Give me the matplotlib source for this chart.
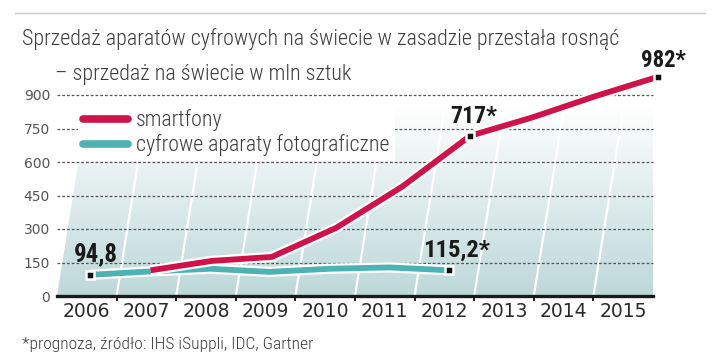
import numpy as np
import matplotlib
matplotlib.use("Agg")
import matplotlib.pyplot as plt
import matplotlib.transforms as mtransforms
import matplotlib.patheffects as pe
from matplotlib.patches import Polygon
from matplotlib.lines import Line2D
from matplotlib import font_manager

_names = {f.name for f in font_manager.fontManager.ttflist}
NARROW = next((n for n in ["Roboto Condensed", "Archivo Narrow", "Asap Condensed",
                           "Liberation Sans Narrow", "DejaVu Sans"] if n in _names), "DejaVu Sans")

# ---- data ----
year_labels = ["2006", "2007", "2008", "2009", "2010", "2011", "2012", "2013", "2014", "2015"]
smart_years = [2007, 2008, 2009, 2010, 2011, 2012, 2013, 2014, 2015]
smart_vals = [115, 157, 175, 305, 490, 717, 800, 895, 982]
camera_years = [2006, 2007, 2008, 2009, 2010, 2011, 2012]
camera_vals = [94.8, 110, 122, 108, 122, 128, 115.2]
y_ticks = [0, 150, 300, 450, 600, 750, 900]
labels_pts = [("camera", 2006, "94,8"), ("camera", 2012, "115,2*"),
              ("smart", 2012, "717*"), ("smart", 2015, "982*")]

RED = "#d0124b"
TEAL = "#4db2b4"
TXT = "#3c3c3c"

W, H = 720, 363
fig = plt.figure(figsize=(W / 100, H / 100), dpi=100)
ax_l, ax_r, ax_b, ax_t = 57, 653, 296, 95
ax = fig.add_axes([ax_l / W, 1 - ax_b / H, (ax_r - ax_l) / W, (ax_b - ax_t) / H])
YMAX = 900
NS = len(year_labels)

k = 0.16
s = k * ((ax_b - ax_t) / YMAX) / ((ax_r - ax_l) / NS)
shear = mtransforms.Affine2D(np.array([[1, s, 0], [0, 1, 0], [0, 0, 1]], float))
trans = shear + ax.transData

def xpos(year):
    return year - 2006 + 0.5

poly = Polygon([(0, 0), (NS, 0), (NS, YMAX), (0, YMAX)], closed=True,
               transform=trans, facecolor="none", edgecolor="none")
ax.add_patch(poly)
c_bot = np.array([0xbd, 0xd8, 0xd9]) / 255
c_top = np.array([1.0, 1.0, 1.0])
t = np.linspace(0, 1, 256)[:, None]
t = np.clip(t / 0.95, 0, 1)
grad = (c_bot[None, :] * (1 - t) + c_top[None, :] * t)[:, None, :]
im = ax.imshow(grad, extent=(0, NS + 2, 0, YMAX), origin="lower", aspect="auto",
               zorder=0, interpolation="bilinear")
im.set_clip_path(poly)
for j in range(1, NS):
    ax.plot([j, j], [0, YMAX], color="white", lw=1.6, transform=trans, zorder=1)

for v in y_ticks[1:]:
    ax.plot([0, NS], [v, v], color="#555555", lw=0.9, ls=(0, (2.2, 1.6)), zorder=2,
            clip_on=False)

ax.set_xlim(0, NS)
ax.set_ylim(0, YMAX)

lw = 4.2
outline = [pe.Stroke(linewidth=lw + 3.2, foreground="white"), pe.Normal()]
cx = [xpos(y) for y in camera_years]
ax.plot(cx, camera_vals, color=TEAL, lw=lw, transform=trans, zorder=4,
        solid_capstyle="butt", solid_joinstyle="round", path_effects=outline, clip_on=False)
sx = [xpos(y) for y in smart_years]
ax.plot(sx, smart_vals, color=RED, lw=lw, transform=trans, zorder=5,
        solid_capstyle="butt", solid_joinstyle="round", path_effects=outline, clip_on=False)

fits = []
series = {"camera": (camera_years, camera_vals), "smart": (smart_years, smart_vals)}
label_widths = {"94,8": 44, "115,2*": 67, "717*": 47, "982*": 45}
label_offsets = {"94,8": (4, 10), "115,2*": (6, 9.5), "717*": (3, 9.5), "982*": (4, 7)}
for key, yr, txt in labels_pts:
    yrs, vals = series[key]
    v = vals[yrs.index(yr)]
    ax.plot([xpos(yr)], [v], marker="s", ms=5.5, color="#111111", mec="white", mew=1.8,
            transform=trans, zorder=6, clip_on=False)
    a = ax.annotate(txt, xy=(xpos(yr), v), xycoords=trans, xytext=label_offsets[txt],
                    textcoords="offset points", ha="center", va="baseline",
                    fontsize=17, fontweight="bold", family=NARROW, color="#1a1a1a", zorder=7)
    fits.append((a, label_widths[txt]))

for sp in ["left", "right", "top"]:
    ax.spines[sp].set_visible(False)
ax.spines["bottom"].set_linewidth(2.4)
ax.spines["bottom"].set_color("#1a1a1a")
ax.spines["bottom"].set_zorder(8)
ax.set_xticks(np.arange(1, NS), minor=True)
ax.set_xticks(np.arange(NS) + 0.5)
ax.set_xticklabels(year_labels, fontsize=13.5, color="#2a2a2a", family="DejaVu Sans")
ax.tick_params(axis="x", which="major", length=0, pad=4.5)
ax.tick_params(axis="x", which="minor", length=3.5, width=1.4, color="#1a1a1a", direction="out")
ax.set_yticks(y_ticks)
ax.set_yticklabels([str(v) for v in y_ticks], fontsize=10, color="#555555", family="DejaVu Sans")
ax.tick_params(axis="y", length=0, pad=5)

leg = ax.legend(handles=[Line2D([], [], color=RED, lw=5.5, solid_capstyle="round"),
                         Line2D([], [], color=TEAL, lw=5.5, solid_capstyle="round")],
                labels=["smartfony", "cyfrowe aparaty fotograficzne"],
                loc="upper left", bbox_to_anchor=(78 / W, 1 - 104 / H), bbox_transform=fig.transFigure,
                borderaxespad=0,
                frameon=True, facecolor="white", edgecolor="none", framealpha=1, fancybox=False,
                handlelength=2.3, handletextpad=0.45, labelspacing=0.15, borderpad=0.25,
                prop={"family": NARROW, "size": 14, "weight": "light"})
for tx in leg.get_texts():
    tx.set_color(TXT)
leg.set_zorder(3)

fig.add_artist(Line2D([15 / W, 705 / W], [1 - 13 / H, 1 - 13 / H], color="#c8c8c8", lw=1))
t1 = fig.text(22 / W, 1 - 45 / H, "Sprzedaż aparatów cyfrowych na świecie w zasadzie przestała rosnąć",
              family=NARROW, fontsize=15, fontweight="light", color=TXT, va="baseline", ha="left")
t2 = fig.text(55 / W, 1 - 80 / H, "– sprzedaż na świecie w mln sztuk",
              family=NARROW, fontsize=15, fontweight="light", color=TXT, va="baseline", ha="left")
t3 = fig.text(22 / W, 1 - 349 / H, "*prognoza, źródło: IHS iSuppli, IDC, Gartner",
              family=NARROW, fontsize=11, fontweight="light", color=TXT, va="baseline", ha="left")
fits += [(t1, 596), (t2, 297), (t3, 290), (leg.get_texts()[0], 87)]

fig.canvas.draw()
r = fig.canvas.get_renderer()
for art, target in fits:
    w = art.get_window_extent(r).width
    art.set_fontsize(art.get_fontsize() * target / w)
leg.get_texts()[1].set_fontsize(leg.get_texts()[0].get_fontsize())

fig.savefig("out.png", dpi=100)
